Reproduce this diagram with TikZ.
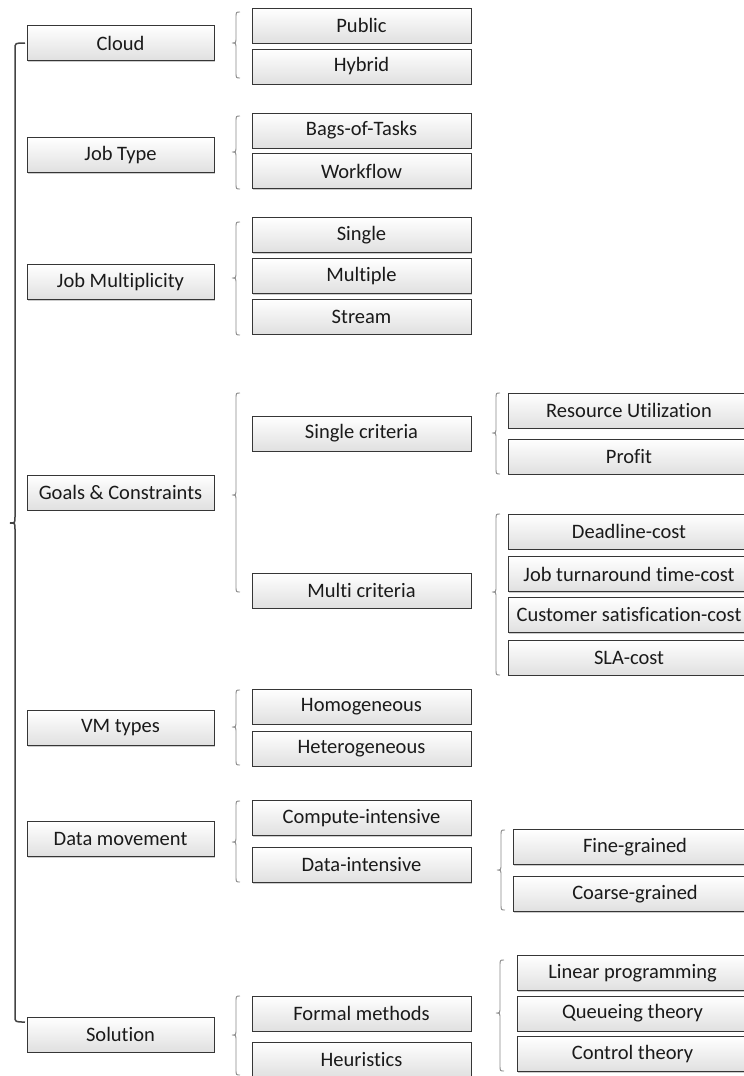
\documentclass[tikz,border=0pt]{standalone}
\usepackage{fontspec}
\setmainfont[Ligatures={NoCommon}]{Carlito}
\usetikzlibrary{shadows}

\definecolor{boxline}{HTML}{363636}
\definecolor{boxshade}{HTML}{E0E0E0}
\definecolor{labeltext}{HTML}{1A1A1A}
\definecolor{bracedark}{HTML}{444444}
\definecolor{bracelight}{HTML}{888888}

% curly brace: #1 end x, #2 spine x, #3 tip x, #4 top y, #5 tip y, #6 bottom y, #7 style
\newcommand\curlybrace[7]{%
  \draw[#7] (#1,#4) .. controls (#2,#4) .. (#2,#4+6)
    -- (#2,#5-6) .. controls (#2,#5) .. (#3,#5)
    .. controls (#2,#5) .. (#2,#5+6)
    -- (#2,#6-6) .. controls (#2,#6) .. (#1,#6);}

\begin{document}
\begin{tikzpicture}[x=1pt,y=-1pt,
  box/.style={draw=boxline, line width=0.9pt, top color=white, bottom color=boxshade,
    minimum height=35pt, inner sep=0pt, text=labeltext,
    font=\fontsize{20.5}{24}\selectfont,
    drop shadow={shadow xshift=1.3pt, shadow yshift=-1.3pt, fill=black, opacity=0.2}},
  lvlone/.style={box, minimum width=187pt},
  lvltwo/.style={box, minimum width=219pt},
  lvlthreea/.style={box, minimum width=242pt},
  lvlthreeb/.style={box, minimum width=244pt},
  lvlthreec/.style={box, minimum width=231pt},
  bigbrace/.style={draw=bracedark, line width=1.5pt},
  smallbrace/.style={draw=bracelight, line width=0.9pt}]

\useasboundingbox (0,0) rectangle (744,1076);
\clip (0,0) rectangle (744,1076);

% first level
\node[lvlone] (cloud)  at (120.5,43)    {Cloud};
\node[lvlone] (jtype)  at (120.5,155)   {Job Type};
\node[lvlone] (jmult)  at (120.5,282)   {Job Multiplicity};
\node[lvlone] (goals)  at (120.5,492.5) {Goals \& Constraints};
\node[lvlone] (vmt)    at (120.5,728)   {VM types};
\node[lvlone] (dmove)  at (120.5,839)   {Data movement};
\node[lvlone] (sol)    at (120.5,1034.5){Solution};

% second level
\node[lvltwo] (public) at (361.5,25.5)  {Public};
\node[lvltwo] (hybrid) at (361.5,66.5)  {Hybrid};
\node[lvltwo] (bot)    at (361.5,130.5) {Bags-of-Tasks};
\node[lvltwo] (wflow)  at (361.5,171)   {Workflow};
\node[lvltwo] (single) at (361.5,235)   {Single};
\node[lvltwo] (multi)  at (361.5,276)   {Multiple};
\node[lvltwo] (stream) at (361.5,316.5) {Stream};
\node[lvltwo] (scrit)  at (361.5,433.5) {Single criteria};
\node[lvltwo] (mcrit)  at (361.5,590.5) {Multi criteria};
\node[lvltwo] (homo)   at (361.5,706.5) {Homogeneous};
\node[lvltwo] (hetero) at (361.5,748.5) {Heterogeneous};
\node[lvltwo] (cint)   at (361.5,818)   {Compute-intensive};
\node[lvltwo] (dint)   at (361.5,865)   {Data-intensive};
\node[lvltwo] (formal) at (361.5,1013.5){Formal methods};
\node[lvltwo] (heur)   at (361.5,1059.5){Heuristics};

% third level
\node[lvlthreea] (resutil) at (629,410.5) {Resource Utilization};
\node[lvlthreea] (profit)  at (629,456.5) {Profit};
\node[lvlthreea] (dlcost)  at (629,531.5) {Deadline-cost};
\node[lvlthreea] (jtcost)  at (629,574)   {Job turnaround time-cost};
\node[lvlthreea] (cscost)  at (629,615)   {Customer satisfication-cost};
\node[lvlthreea] (slacost) at (629,657.5) {SLA-cost};
\node[lvlthreeb] (fine)    at (635,847)   {Fine-grained};
\node[lvlthreeb] (coarse)  at (635,894)   {Coarse-grained};
\node[lvlthreec] (linprog) at (632.5,973)   {Linear programming};
\node[lvlthreec] (queue)   at (632.5,1013.5){Queueing theory};
\node[lvlthreec] (ctrl)    at (632.5,1054)  {Control theory};

% braces grouping the children of each category
\curlybrace{25}{15}{10}{43}{523}{1022}{bigbrace}

\curlybrace{240}{236}{232}{12}{43}{78}{smallbrace}
\curlybrace{240}{236}{232}{116}{152}{189}{smallbrace}
\curlybrace{240}{236}{232}{222}{278}{335}{smallbrace}
\curlybrace{240}{236}{232}{393}{495}{592}{smallbrace}
\curlybrace{240}{236}{232}{690}{727}{765}{smallbrace}
\curlybrace{240}{236}{232}{801}{842}{882}{smallbrace}
\curlybrace{240}{236}{232}{996}{1035}{1075}{smallbrace}

\curlybrace{500}{496}{492}{393}{433}{474}{smallbrace}
\curlybrace{500}{496}{492}{514}{592}{675}{smallbrace}
\curlybrace{505}{501}{497}{830}{870}{910}{smallbrace}
\curlybrace{504}{500}{496}{960}{1013}{1071}{smallbrace}
\end{tikzpicture}
\end{document}
